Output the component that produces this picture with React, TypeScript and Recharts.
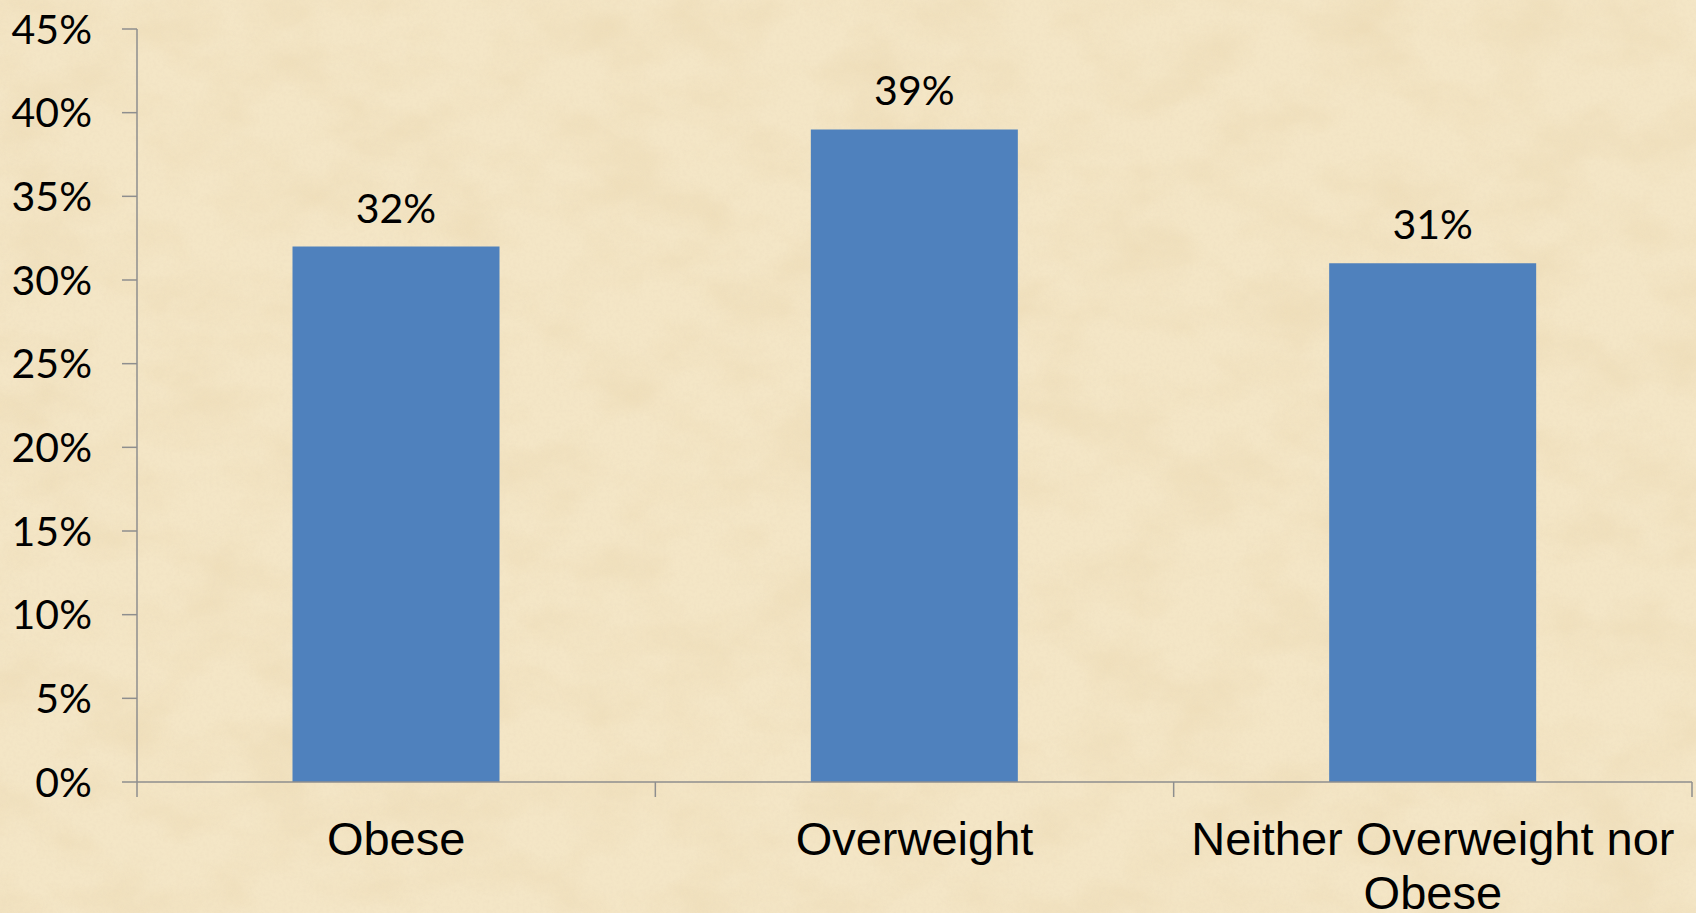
import React from 'react';
import { BarChart, Bar, XAxis, YAxis, LabelList } from 'recharts';

// Chart data
const CATEGORIES = ['Obese', 'Overweight', 'Neither Overweight nor Obese'];
const SHARES = [32, 39, 31];
const Y_TICKS = [0, 5, 10, 15, 20, 25, 30, 35, 40, 45];

const WIDTH = 1696;
const HEIGHT = 913;
const BAR_COLOR = '#4F81BD';
const AXIS_COLOR = '#8E8E8E';
const NUM_FONT = 'Lato, "Noto Sans", sans-serif';
const NUM_SIZE = 41;
const CAT_FONT = '"Liberation Sans", Arial, sans-serif';
const CAT_SIZE = 47;

const data = CATEGORIES.map((name, i) => ({ name, value: SHARES[i] }));

// word wrap using canvas text metrics
let ctx: CanvasRenderingContext2D | null = null;
const wrap = (text: string, maxWidth: number): string[] => {
  if (!ctx) ctx = document.createElement('canvas').getContext('2d');
  if (!ctx) return [text];
  ctx.font = `${CAT_SIZE}px ${CAT_FONT}`;
  const lines: string[] = [];
  let cur = '';
  text.split(' ').forEach(w => {
    const next = cur ? `${cur} ${w}` : w;
    if (cur && ctx!.measureText(next).width > maxWidth) {
      lines.push(cur);
      cur = w;
    } else {
      cur = next;
    }
  });
  if (cur) lines.push(cur);
  return lines;
};

const CategoryTick = (props: any) => {
  const { x, y, payload } = props;
  const lines = wrap(String(payload.value), 510);
  return (
    <text
      x={x}
      y={y + 31}
      textAnchor="middle"
      fill="#000"
      style={{ fontSize: CAT_SIZE, fontFamily: CAT_FONT }}
    >
      {lines.map((line, i) => (
        <tspan key={i} x={x} dy={i === 0 ? '0.71em' : 54}>{line}</tspan>
      ))}
    </text>
  );
};

// Excel-style tick marks between categories (band edges from the axis scale)
const EdgeTick = (props: any) => {
  const { x, y, payload, index, visibleTicksCount } = props;
  const half = payload.offset || 0;
  const last = index === visibleTicksCount - 1;
  return (
    <g stroke={AXIS_COLOR} strokeWidth={1.5}>
      <line x1={x - half} x2={x - half} y1={y} y2={y + 15} />
      {last && <line x1={x + half} x2={x + half} y1={y} y2={y + 15} />}
    </g>
  );
};

// Parchment-like backdrop
const Backdrop: React.FC = () => (
  <svg width={WIDTH} height={HEIGHT} style={{ position: 'absolute', left: 0, top: 0 }}>
    <defs>
      <filter id="paper" x="0" y="0" width="100%" height="100%">
        <feTurbulence type="fractalNoise" baseFrequency="0.012 0.018" numOctaves={5} seed={7} />
        <feColorMatrix
          type="matrix"
          values="0 0 0 0 0.78
                  0 0 0 0 0.62
                  0 0 0 0 0.36
                  1.4 0 0 0 -0.55"
        />
      </filter>
      <filter id="grain" x="0" y="0" width="100%" height="100%">
        <feTurbulence type="fractalNoise" baseFrequency="0.3" numOctaves={2} seed={3} />
        <feColorMatrix
          type="matrix"
          values="0 0 0 0 0.84
                  0 0 0 0 0.72
                  0 0 0 0 0.52
                  1.1 0 0 0 -0.4"
        />
      </filter>
    </defs>
    <rect width={WIDTH} height={HEIGHT} fill="#F4E6C6" />
    <rect width={WIDTH} height={HEIGHT} filter="url(#paper)" opacity={0.5} />
    <rect width={WIDTH} height={HEIGHT} filter="url(#grain)" opacity={0.6} />
  </svg>
);

const App: React.FC = () => {
  return (
    <div style={{ position: 'relative', width: WIDTH, height: HEIGHT, overflow: 'hidden' }}>
      <style>{`body { margin: 0; }`}</style>
      <Backdrop />
      <div style={{ position: 'absolute', left: 0, top: 0 }}>
        <BarChart
          width={WIDTH}
          height={HEIGHT}
          data={data}
          margin={{ top: 29, right: 4, bottom: 0, left: 0 }}
          barCategoryGap="30%"
        >
          {/* axis line + boundary ticks */}
          <XAxis
            xAxisId="a-edges"
            dataKey="name"
            height={1}
            interval={0}
            tickSize={0}
            tickMargin={0}
            tickLine={false}
            axisLine={{ stroke: AXIS_COLOR, strokeWidth: 1.5 }}
            tick={<EdgeTick />}
          />
          {/* category labels */}
          <XAxis
            xAxisId="b-cats"
            dataKey="name"
            height={130}
            axisLine={false}
            tickLine={false}
            interval={0}
            tick={<CategoryTick />}
          />
          <YAxis
            width={137}
            domain={[0, 45]}
            ticks={Y_TICKS}
            interval={0}
            tickFormatter={(v: number) => `${v}%`}
            tickSize={15}
            tickMargin={30}
            axisLine={{ stroke: AXIS_COLOR, strokeWidth: 1.5 }}
            tickLine={{ stroke: AXIS_COLOR, strokeWidth: 1.5 }}
            tick={{ fill: '#000', fontSize: NUM_SIZE, fontFamily: NUM_FONT }}
          />
          <Bar xAxisId="b-cats" dataKey="value" fill={BAR_COLOR} isAnimationActive={false}>
            <LabelList
              dataKey="value"
              position="top"
              offset={24}
              formatter={(v: any) => `${v}%`}
              style={{ fill: '#000', fontSize: NUM_SIZE, fontFamily: NUM_FONT }}
            />
          </Bar>
        </BarChart>
      </div>
    </div>
  );
};

export default App;
